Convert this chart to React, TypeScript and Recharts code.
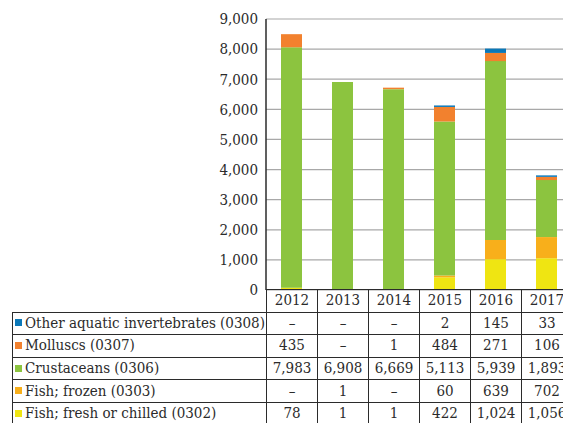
import { BarChart, Bar, XAxis, YAxis, CartesianGrid } from 'recharts';

const years = ['2012', '2013', '2014', '2015', '2016', '2017'];
const otherInvertebrates = [null, null, null, 2, 145, 33];
const molluscs = [435, null, 1, 484, 271, 106];
const crustaceans = [7983, 6908, 6669, 5113, 5939, 1893];
const fishFrozen = [null, 1, null, 60, 639, 702];
const fishFresh = [78, 1, 1, 422, 1024, 1056];
const yTicks = [0, 1000, 2000, 3000, 4000, 5000, 6000, 7000, 8000, 9000];

// table order, top to bottom (stack is drawn in reverse)
const series = [
  { key: 'other', label: 'Other aquatic invertebrates (0308)', values: otherInvertebrates, color: '#0B78B8' },
  { key: 'molluscs', label: 'Molluscs (0307)', values: molluscs, color: '#F2812E' },
  { key: 'crustaceans', label: 'Crustaceans (0306)', values: crustaceans, color: '#8CC43F' },
  { key: 'frozen', label: 'Fish; frozen (0303)', values: fishFrozen, color: '#F8AF1B' },
  { key: 'fresh', label: 'Fish; fresh or chilled (0302)', values: fishFresh, color: '#EFE512' },
];

const chartData = years.map((year, i) => {
  const row: Record<string, string | number> = { year };
  series.forEach(s => {
    row[s.key] = s.values[i] ?? 0;
  });
  return row;
});

const fmt = (v: number | null) => (v == null ? '–' : v.toLocaleString('en-US'));

const FONT = 'DejaVu Serif';
const INK = '#2b2b2b';
const LABEL_W = 254;
const COL_W = 51;

export default function App() {
  const cell: React.CSSProperties = {
    border: `1px solid ${INK}`,
    padding: 0,
    height: 22.6,
    lineHeight: '21px',
    textAlign: 'center',
    whiteSpace: 'nowrap',
    overflow: 'hidden',
    boxSizing: 'border-box',
  };
  return (
    <div
      style={{
        position: 'relative',
        width: 563,
        height: 423,
        overflow: 'hidden',
        background: '#fff',
        fontFamily: FONT,
        fontStretch: 'condensed',
      }}
    >
      <style>{'body{margin:0}'}</style>
      <div style={{ position: 'absolute', left: 0, top: 0 }}>
        <BarChart width={572} height={310} data={chartData} margin={{ top: 19, right: 0, left: 0, bottom: 20 }}>
          <CartesianGrid vertical={false} stroke="#a8a8a8" strokeWidth={1.2} />
          <XAxis dataKey="year" hide />
          <YAxis
            width={266}
            domain={[0, 9000]}
            ticks={yTicks}
            interval={0}
            tickFormatter={v => Number(v).toLocaleString('en-US')}
            tick={{ fontSize: 15, fill: INK, fontFamily: FONT, fontStretch: 'condensed' }}
            tickLine={false}
            axisLine={{ stroke: INK, strokeWidth: 1.5 }}
          />
          {[...series].reverse().map(s => {
            // tiny top segments still show as a sliver, like the original
            const sliver = s.key === 'other' || s.key === 'molluscs';
            return (
              <Bar
                key={s.key}
                dataKey={s.key}
                stackId="a"
                fill={s.color}
                barSize={21}
                minPointSize={sliver ? (_: unknown, index: number) => (s.values[index] ? 1.5 : 0) : 0}
                isAnimationActive={false}
              />
            );
          })}
        </BarChart>
      </div>
      <table
        style={{
          position: 'absolute',
          left: 12,
          top: 289,
          borderCollapse: 'collapse',
          tableLayout: 'fixed',
          width: LABEL_W + COL_W * years.length,
          fontSize: 15,
          color: INK,
          fontFamily: FONT,
          fontStretch: 'condensed',
        }}
      >
        <colgroup>
          <col style={{ width: LABEL_W }} />
          {years.map(y => (
            <col key={y} style={{ width: COL_W }} />
          ))}
        </colgroup>
        <tbody>
          <tr>
            <td style={{ ...cell, border: 'none', borderRight: `1px solid ${INK}` }} />
            {years.map(y => (
              <td key={y} style={cell}>
                {y}
              </td>
            ))}
          </tr>
          {series.map(s => (
            <tr key={s.key}>
              <td style={{ ...cell, textAlign: 'left', paddingLeft: 2 }}>
                <span
                  style={{
                    display: 'inline-block',
                    width: 7,
                    height: 7,
                    background: s.color,
                    marginRight: 3,
                    verticalAlign: 'middle',
                    position: 'relative',
                    top: -1,
                  }}
                />
                {s.label}
              </td>
              {s.values.map((v, i) => (
                <td key={i} style={cell}>
                  {fmt(v)}
                </td>
              ))}
            </tr>
          ))}
        </tbody>
      </table>
    </div>
  );
}
